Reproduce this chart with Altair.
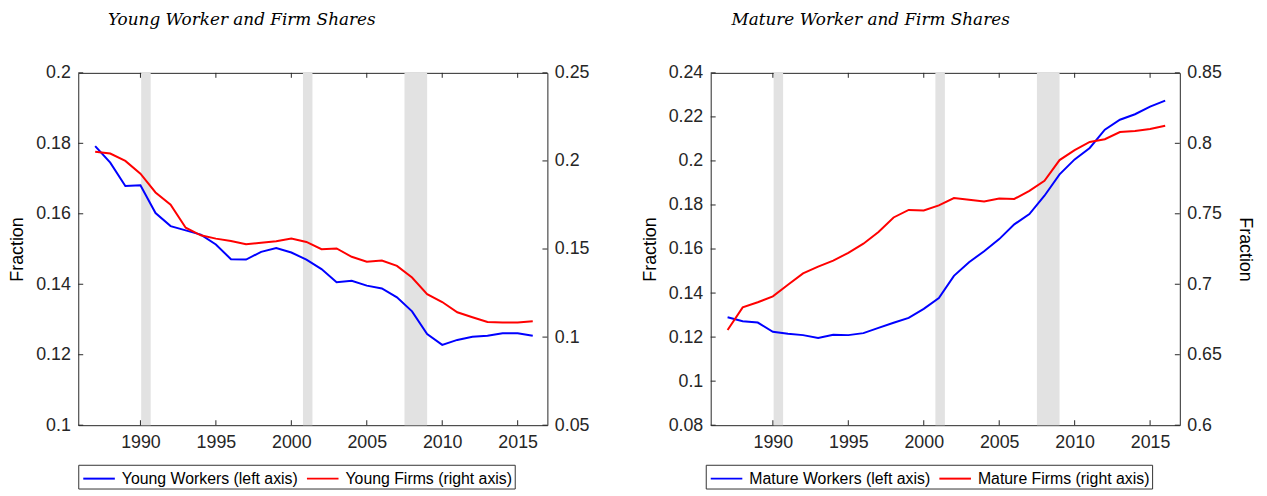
import altair as alt
import pandas as pd

years = list(range(1987, 2017))
young_workers = [0.1792, 0.1745, 0.1679, 0.1681, 0.1602, 0.1565, 0.1553, 0.1541, 0.1513, 0.1471,
                 0.1470, 0.1492, 0.1503, 0.1490, 0.1470, 0.1443, 0.1406, 0.1410, 0.1396, 0.1388,
                 0.1363, 0.1323, 0.1259, 0.1228, 0.1242, 0.1251, 0.1254, 0.1261, 0.1261, 0.1254]
young_firms = [0.2052, 0.2042, 0.2000, 0.1928, 0.1821, 0.1752, 0.1621, 0.1578, 0.1559, 0.1546,
               0.1527, 0.1536, 0.1544, 0.1559, 0.1540, 0.1499, 0.1503, 0.1456, 0.1428, 0.1435,
               0.1404, 0.1338, 0.1244, 0.1199, 0.1141, 0.1113, 0.1086, 0.1083, 0.1083, 0.1090]
mature_workers = [0.1290, 0.1272, 0.1266, 0.1224, 0.1215, 0.1209, 0.1196, 0.1211, 0.1209, 0.1218,
                  0.1242, 0.1265, 0.1287, 0.1328, 0.1377, 0.1478, 0.1540, 0.1590, 0.1645, 0.1712,
                  0.1759, 0.1842, 0.1939, 0.2007, 0.2059, 0.2142, 0.2187, 0.2212, 0.2247, 0.2274]
mature_firms = [0.6675, 0.6836, 0.6872, 0.6914, 0.6996, 0.7077, 0.7125, 0.7167, 0.7223, 0.7288,
                0.7371, 0.7474, 0.7527, 0.7523, 0.7560, 0.7612, 0.7600, 0.7588, 0.7609, 0.7605,
                0.7663, 0.7734, 0.7881, 0.7952, 0.8010, 0.8029, 0.8080, 0.8087, 0.8101, 0.8125]

rec_start = [1990.05, 2000.77, 2007.5]
rec_end = [1990.68, 2001.4, 2009.0]

x_ticks = [1990, 1995, 2000, 2005, 2010, 2015]
yw_ticks = [0.1, 0.12, 0.14, 0.16, 0.18, 0.2]
yf_ticks = [0.05, 0.1, 0.15, 0.2, 0.25]
mw_ticks = [0.08, 0.1, 0.12, 0.14, 0.16, 0.18, 0.2, 0.22, 0.24]
mf_ticks = [0.6, 0.65, 0.7, 0.75, 0.8, 0.85]

W, H = 474, 356
XDOM = [1985.88, 2016.97]
AXC = "#262626"
FONT = "Liberation Sans"
TFS = 18


def panel(title, title_dx, wl, fl, wv, fv, ldom, lticks, rdom, rticks, right_title, leg_x):
    xs = alt.Scale(domain=XDOM, nice=False, zero=False)
    xaxis = alt.Axis(values=x_ticks, format="d", ticks=False, tickSize=0, domain=False,
                     grid=False, labelPadding=9, labelFont=FONT, labelFontSize=TFS,
                     labelColor=AXC, title=None)
    rec_df = pd.DataFrame({"year": rec_start, "end": rec_end})
    rec = alt.Chart(rec_df).mark_rect(color="#e2e2e2").encode(
        x=alt.X("year:Q", scale=xs, axis=xaxis), x2="end:Q",
        y=alt.value(0), y2=alt.value(H))
    xt_df = pd.DataFrame({"year": x_ticks})
    xt_b = alt.Chart(xt_df).mark_rule(color=AXC, strokeWidth=1).encode(
        x=alt.X("year:Q", scale=xs, axis=xaxis), y=alt.value(H), y2=alt.value(H - 5))
    xt_t = alt.Chart(xt_df).mark_rule(color=AXC, strokeWidth=1).encode(
        x=alt.X("year:Q", scale=xs, axis=xaxis), y=alt.value(0), y2=alt.value(5))

    color = alt.Color("series:N",
                      scale=alt.Scale(domain=[wl, fl], range=["#0000ff", "#ff0000"]),
                      legend=alt.Legend(orient="none", legendX=leg_x, legendY=396,
                                        direction="horizontal", title=None,
                                        symbolType="M-1.45,0H1.45", symbolSize=484,
                                        symbolOffset=7, symbolStrokeWidth=2,
                                        labelFont=FONT, labelFontSize=16,
                                        labelColor="black", labelLimit=400,
                                        labelOffset=11, columnPadding=5, padding=2,
                                        strokeColor="#333333", fillColor="white"))

    lscale = alt.Scale(domain=ldom, nice=False, zero=False)
    laxis = alt.Axis(orient="left", values=lticks, format=".2~f", ticks=False, tickSize=0,
                     domain=False, grid=False, labelPadding=8, labelFont=FONT,
                     labelFontSize=TFS, labelColor=AXC, title="Fraction", titleFont=FONT,
                     titleFontSize=TFS, titleFontWeight="normal", titleColor="black",
                     titlePadding=9)
    w_df = pd.DataFrame({"year": years, "value": wv, "series": wl})
    w_line = alt.Chart(w_df).mark_line(strokeWidth=2).encode(
        x=alt.X("year:Q", scale=xs, axis=xaxis),
        y=alt.Y("value:Q", scale=lscale, axis=laxis), color=color)
    lt_df = pd.DataFrame({"value": lticks})
    lt = alt.Chart(lt_df).mark_rule(color=AXC, strokeWidth=1).encode(
        y=alt.Y("value:Q", scale=lscale, axis=laxis), x=alt.value(0), x2=alt.value(5))
    left = alt.layer(lt, w_line)

    rscale = alt.Scale(domain=rdom, nice=False, zero=False)
    rkw = dict(orient="right", values=rticks, format=".2~f", ticks=False, tickSize=0,
               domain=False, grid=False, labelPadding=7, labelFont=FONT,
               labelFontSize=TFS, labelColor=AXC)
    if right_title:
        raxis = alt.Axis(title="Fraction", titleFont=FONT, titleFontSize=TFS,
                         titleFontWeight="normal", titleColor="black", titlePadding=14, **rkw)
    else:
        raxis = alt.Axis(title=None, **rkw)
    f_df = pd.DataFrame({"year": years, "value": fv, "series": fl})
    f_line = alt.Chart(f_df).mark_line(strokeWidth=2).encode(
        x=alt.X("year:Q", scale=xs, axis=xaxis),
        y=alt.Y("value:Q", scale=rscale, axis=raxis), color=color)
    rt_df = pd.DataFrame({"value": rticks})
    rt = alt.Chart(rt_df).mark_rule(color=AXC, strokeWidth=1).encode(
        y=alt.Y("value:Q", scale=rscale, axis=raxis), x=alt.value(W - 5), x2=alt.value(W))
    right = alt.layer(rt, f_line)

    return alt.layer(rec, xt_b, xt_t, left, right).resolve_scale(y="independent").properties(
        width=W, height=H,
        title=alt.TitleParams(title, font="DejaVu Serif", fontStyle="italic",
                              fontWeight="normal", fontSize=17, color="black",
                              anchor="start", frame="group", dx=title_dx, offset=35))


p1 = panel("Young Worker and Firm Shares", 30, "Young Workers (left axis)",
           "Young Firms (right axis)", young_workers, young_firms, [0.1, 0.2], yw_ticks,
           [0.05, 0.25], yf_ticks, False, 0)
p2 = panel("Mature Worker and Firm Shares", 21, "Mature Workers (left axis)",
           "Mature Firms (right axis)", mature_workers, mature_firms, [0.08, 0.24], mw_ticks,
           [0.6, 0.85], mf_ticks, True, -5)

chart = alt.hconcat(p1, p2, spacing=51).resolve_scale(color="independent").configure_view(
    stroke=AXC, strokeWidth=1).properties(
    padding={"left": 0, "top": 0, "right": 5, "bottom": 2}, background="white")

chart.save("out.html", embed_options={"renderer": "svg", "actions": False})
